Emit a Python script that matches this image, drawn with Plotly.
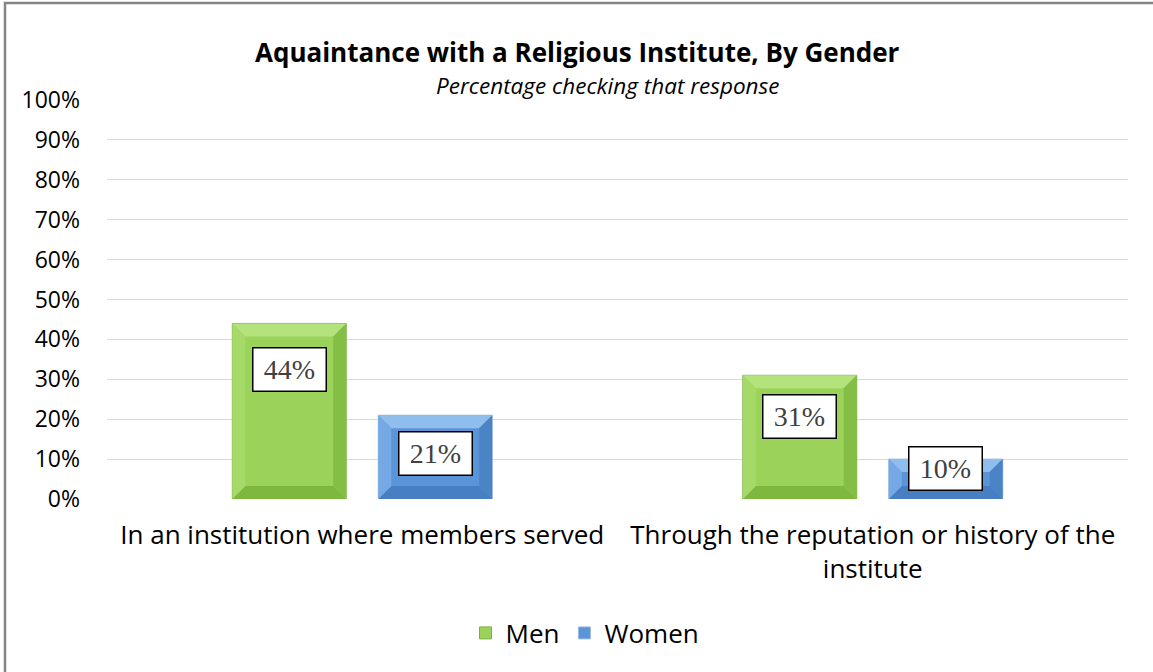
import plotly.graph_objects as go

categories = ["In an institution where members served",
              "Through the reputation or history of the<br>institute"]
series_names = ["Men", "Women"]
men = [0.44, 0.31]
women = [0.21, 0.10]
tick_vals = [i / 10 for i in range(11)]

# style
W, H = 1153, 672
ML, MR, MT, MB = 107, 25, 100, 173
PW, PH = W - ML - MR, H - MT - MB
BARGAP, GROUPGAP = 0.428, 0.22
FONT = "Open Sans"
label_shift = {"Men": [-46, -41], "Women": [-38, -9]}
colors = {
    "Men": dict(main="#9BD35A", top="#B4E27C", left="#A6DA68", right="#84BE44", bottom="#7FB83F", line="#7DAF45"),
    "Women": dict(main="#5B95D9", top="#8FBDEE", left="#74A9E6", right="#4A83C6", bottom="#467FC2", line="#9DB9DD"),
}

fig = go.Figure()
values = {"Men": men, "Women": women}
xs = list(range(len(categories)))
for name in series_names:
    fig.add_trace(go.Bar(x=xs, y=values[name], name=name,
                         marker=dict(color=colors[name]["main"],
                                     line=dict(color=colors[name]["line"], width=1))))

slot = (1 - BARGAP) / len(series_names)
bw = slot * (1 - GROUPGAP)
xpp = 2.0 / PW  # x units per px (range -0.5..1.5)
ypp = 1.0 / PH
bev = 13
shapes = []
annotations = []
for si, name in enumerate(series_names):
    c = colors[name]
    for ci, v in enumerate(values[name]):
        xc = xs[ci] - (1 - BARGAP) / 2 + slot * (si + 0.5)
        x0, x1 = xc - bw / 2, xc + bw / 2
        hpx = v / ypp
        b = min(bev, hpx / 2)
        dx, dy = b * xpp, b * ypp
        y0, y1 = 0, v
        faces = [
            ("top", [(x0, y1), (x1, y1), (x1 - dx, y1 - dy), (x0 + dx, y1 - dy)]),
            ("bottom", [(x0, y0), (x1, y0), (x1 - dx, y0 + dy), (x0 + dx, y0 + dy)]),
            ("left", [(x0, y0), (x0, y1), (x0 + dx, y1 - dy), (x0 + dx, y0 + dy)]),
            ("right", [(x1, y0), (x1, y1), (x1 - dx, y1 - dy), (x1 - dx, y0 + dy)]),
        ]
        for face, pts in faces:
            path = "M " + " L ".join(f"{px},{py}" for px, py in pts) + " Z"
            shapes.append(dict(type="path", path=path, xref="x", yref="y",
                               fillcolor=c[face], line=dict(width=0), layer="above"))
        annotations.append(dict(x=xc, y=v, xref="x", yref="y", text=f"{round(v*100)}%",
                                showarrow=False, yanchor="middle", yshift=label_shift[name][ci],
                                font=dict(family="Liberation Serif", size=28, color="#404040"),
                                bgcolor="white", bordercolor="black", borderwidth=1.5,
                                width=70, height=40, borderpad=1))

# outer border (left and top visible)
bx = (5 - ML) / PW
by = (H - MB - 3) / PH
shapes.append(dict(type="path", xref="paper", yref="paper",
                   path=f"M {bx},-1 L {bx},{by} L 1.2,{by}",
                   line=dict(color="#858585", width=2.5)))

annotations.append(dict(text="<b>Aquaintance with a Religious Institute, By Gender</b>",
                        xref="paper", yref="paper", x=(577 - ML) / PW, y=(H - MB - 52) / PH,
                        showarrow=False, xanchor="center", yanchor="middle",
                        font=dict(family=FONT, size=26, color="black")))
annotations.append(dict(text="<i>Percentage checking that response</i>",
                        xref="paper", yref="paper", x=(607 - ML) / PW, y=(H - MB - 86) / PH,
                        showarrow=False, xanchor="center", yanchor="middle",
                        font=dict(family=FONT, size=22.5, color="black")))

fig.update_layout(
    width=W, height=H, margin=dict(l=ML, r=MR, t=MT, b=MB),
    paper_bgcolor="white", plot_bgcolor="white",
    barmode="group", bargap=BARGAP, bargroupgap=GROUPGAP,
    shapes=shapes, annotations=annotations,
    font=dict(family=FONT, color="black"),
    legend=dict(orientation="h", x=(585 - ML) / PW, xanchor="center", y=(H - MB - 633) / PH,
                yanchor="middle", font=dict(size=26, family=FONT, color="black"),
                traceorder="normal", itemwidth=30),
    xaxis=dict(range=[-0.5, 1.5], tickvals=xs, ticktext=categories, showgrid=False,
               zeroline=False, showline=False, ticks="", ticklabelstandoff=18,
               tickfont=dict(size=26, family=FONT, color="black")),
    yaxis=dict(range=[0, 1], tickvals=tick_vals, tickformat=".0%", showgrid=True,
               gridcolor="#D9D9D9", gridwidth=1, zeroline=False, ticks="", showline=False,
               tickfont=dict(size=23, family=FONT, color="black"), ticklabelstandoff=26),
)
fig.write_html("out.html", config={"displayModeBar": False},
               post_script="document.body.style.margin='0';document.body.style.overflow='hidden';")
